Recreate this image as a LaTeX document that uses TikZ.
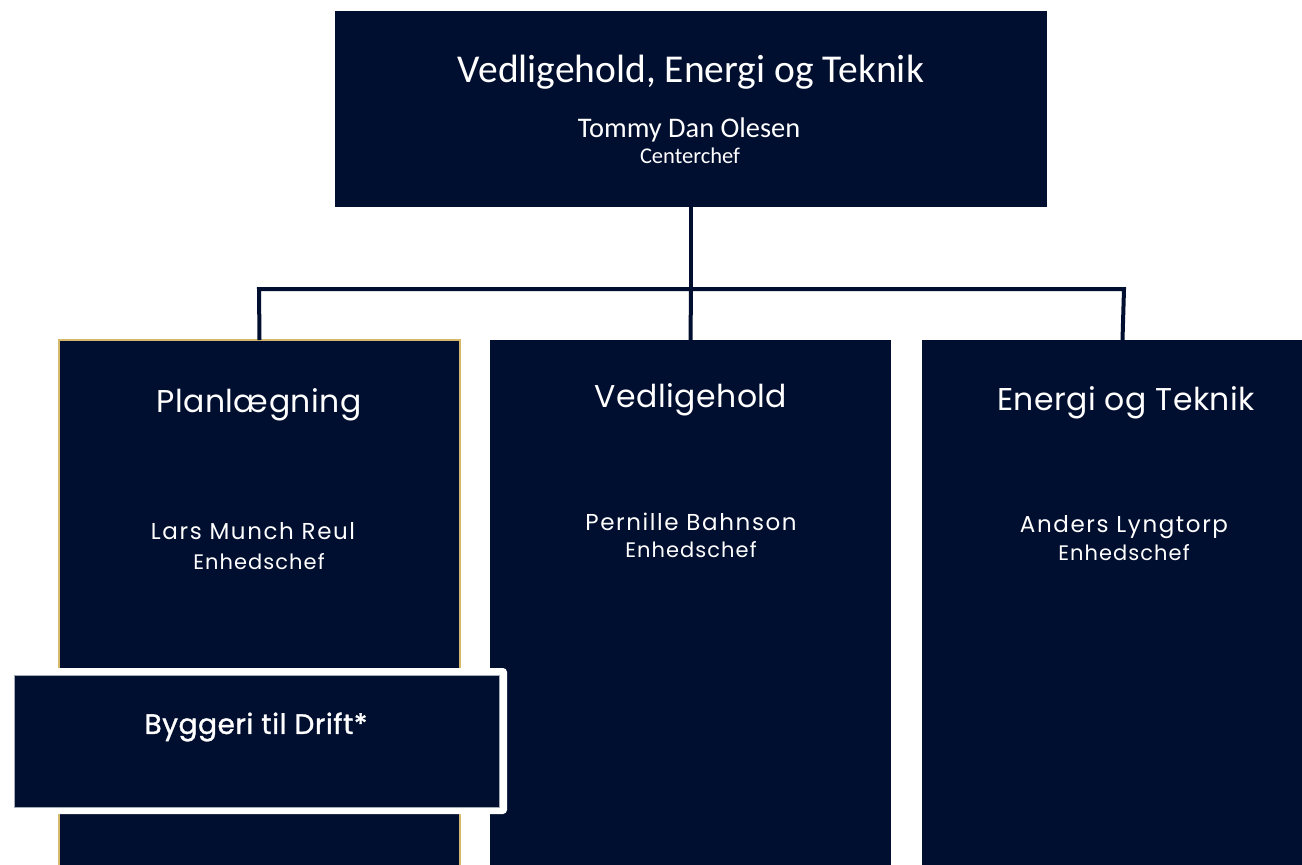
\documentclass[tikz,border=0pt]{standalone}
\usepackage{fontspec}
\setmainfont{Poppins}
\newfontfamily\topfont{Carlito}
\usetikzlibrary{calc}
\definecolor{navy}{HTML}{000E2F}
\definecolor{gold}{HTML}{D4B96A}
\definecolor{frameline}{HTML}{A6ABB8}
\begin{document}
\begin{tikzpicture}[x=1pt,y=-1pt,
  unitbox/.style={fill=navy, draw=none, anchor=north west, inner sep=0pt, outer sep=0pt,
    minimum width=401pt, minimum height=560pt},
  topbox/.style={fill=navy, draw=none, anchor=north west, inner sep=0pt, outer sep=0pt,
    minimum width=712pt, minimum height=196pt},
  conn/.style={draw=navy, line width=4pt},
  ttl/.style={text=white, inner sep=0pt, font=\fontsize{31.5}{36}\selectfont\addfontfeatures{LetterSpace=1.5}},
  nam/.style={text=white, inner sep=0pt, font=\fontsize{23}{27}\selectfont\addfontfeatures{LetterSpace=7}},
  rol/.style={text=white, inner sep=0pt, font=\fontsize{21}{25}\selectfont\addfontfeatures{LetterSpace=5}},
]
\useasboundingbox (0,0) rectangle (1302,865);
\fill[white] (0,0) rectangle (1302,865);

% top box
\node[topbox] (top) at (335,11) {};
\node[text=white, inner sep=0pt, font=\topfont\fontsize{39.5}{44}\selectfont] (toptitle) at (691,72) {Vedligehold, Energi og Teknik};
\node[text=white, inner sep=0pt, font=\topfont\fontsize{28.4}{32}\selectfont] (topname) at (689,130) {Tommy Dan Olesen};
\node[text=white, inner sep=0pt, font=\topfont\fontsize{22.5}{26}\selectfont] (toprole) at (690,156) {Centerchef};

% lower boxes
\node[unitbox, draw=gold, line width=1.5pt] (plan) at (59,340) {};
\node[unitbox] (vedl) at (490,340) {};
\node[unitbox] (energi) at (922,340) {};

% connectors
\coordinate (bus) at (691,289);
\draw[conn] (top.south) -- (bus);
\draw[conn] (plan.north) -- (259,289) -- (1124,289) -- (energi.north);
\draw[conn] (bus) -- (vedl.north);

% texts
\node[ttl] (planT) at (259,405) {Planlægning};
\node[nam] (planN) at (253,531) {Lars Munch Reul};
\node[rol] (planR) at (259,562) {Enhedschef};

\node[ttl] (vedlT) at (691,400) {Vedligehold};
\node[nam] (vedlN) at (691,522) {Pernille Bahnson};
\node[rol] (vedlR) at (691,550) {Enhedschef};

\node[ttl] (energiT) at (1126,403) {Energi og Teknik};
\node[nam] (energiN) at (1124,527) {Anders Lyngtorp};
\node[rol] (energiR) at (1124,553) {Enhedschef};

% Byggeri til Drift
\fill[white, rounded corners=4pt] (7,668) rectangle (507,814);
\node[fill=navy, draw=frameline, line width=0.6pt, anchor=north west, inner sep=0pt,
  minimum width=485pt, minimum height=132pt] (byg) at (14,675) {};
\node[text=white, inner sep=0pt, font=\fontsize{28}{32}\selectfont\addfontfeatures{FakeBold=1.2,LetterSpace=2}] (bygT) at (256,727) {Byggeri til Drift*};
\end{tikzpicture}
\end{document}
